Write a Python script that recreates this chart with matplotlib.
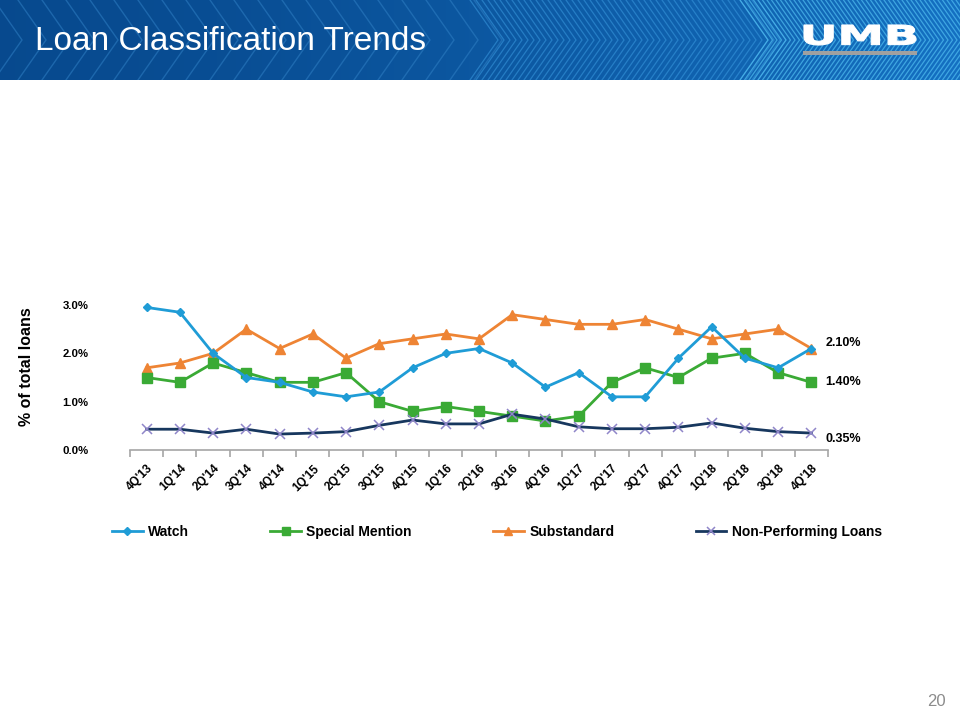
import numpy as np
import matplotlib
matplotlib.use("Agg")
import matplotlib.pyplot as plt
from matplotlib.textpath import TextPath
from matplotlib.font_manager import FontProperties
from matplotlib.patches import PathPatch, Rectangle
from matplotlib.transforms import Affine2D
from matplotlib.ticker import FixedLocator, FuncFormatter

plt.rcParams['font.family'] = ['Liberation Sans', 'DejaVu Sans']

quarters = ["4Q'13", "1Q'14", "2Q'14", "3Q'14", "4Q'14", "1Q'15", "2Q'15", "3Q'15",
            "4Q'15", "1Q'16", "2Q'16", "3Q'16", "4Q'16", "1Q'17", "2Q'17", "3Q'17",
            "4Q'17", "1Q'18", "2Q'18", "3Q'18", "4Q'18"]
watch = [2.95, 2.85, 2.0, 1.5, 1.4, 1.2, 1.1, 1.2, 1.7, 2.0, 2.1, 1.8, 1.3, 1.6,
         1.1, 1.1, 1.9, 2.55, 1.9, 1.7, 2.1]
special_mention = [1.5, 1.4, 1.8, 1.6, 1.4, 1.4, 1.6, 1.0, 0.8, 0.9, 0.8, 0.7, 0.6,
                   0.7, 1.4, 1.7, 1.5, 1.9, 2.0, 1.6, 1.4]
substandard = [1.7, 1.8, 2.0, 2.5, 2.1, 2.4, 1.9, 2.2, 2.3, 2.4, 2.3, 2.8, 2.7, 2.6,
               2.6, 2.7, 2.5, 2.3, 2.4, 2.5, 2.1]
npl = [0.43, 0.43, 0.35, 0.43, 0.33, 0.35, 0.38, 0.51, 0.62, 0.54, 0.54, 0.74, 0.64,
       0.48, 0.44, 0.44, 0.47, 0.56, 0.45, 0.38, 0.35]
yticks = [0.0, 1.0, 2.0, 3.0]
end_labels = ["2.10%", "1.40%", "0.35%"]

W, H = 960, 720
fig = plt.figure(figsize=(9.6, 7.2), dpi=100)
fig.patch.set_facecolor('white')

# ---------------- header band ----------------
hax = fig.add_axes([0, 1 - 80 / H, 1, 80 / H])
hax.set_xlim(0, W)
hax.set_ylim(80, 0)
hax.axis('off')
grad = np.linspace(0, 1, 256)
c0 = np.array([0.03, 0.29, 0.56])
c1 = np.array([0.08, 0.44, 0.76])
img = c0[None, :] + (c1 - c0)[None, :] * (grad ** 1.5)[:, None]
hax.imshow(img[None, :, :], extent=[0, W, 80, 0], aspect='auto', zorder=0)

def chevrons(xs, color, alpha, lw, d=28):
    for x0 in xs:
        hax.plot([x0, x0 + d, x0], [0, 40, 80], color=color, alpha=alpha, lw=lw,
                 solid_joinstyle='miter', zorder=1)

chevrons(np.arange(-30, 480, 24), '#2f7fc4', 0.55, 1.0)
chevrons(np.arange(470, 760, 6), '#3a9ae0', 0.55, 0.9)
chevrons(np.arange(740, 980, 4.5), '#55c4f5', 0.65, 0.9)

hax.text(35, 41, "Loan Classification Trends", color='white', fontsize=24,
         va='center', ha='left', zorder=5)

# UMB logo
fp = FontProperties(family='DejaVu Sans', weight='bold')
tp = TextPath((0, 0), "UMB", size=10, prop=fp)
bb = tp.get_extents()
sx = (916 - 804) / bb.width
sy = (45 - 25) / bb.height
tr = Affine2D().translate(-bb.x0, -bb.y0).scale(sx, -sy).translate(804, 45)
hax.add_patch(PathPatch(tr.transform_path(tp), facecolor='white', edgecolor='white',
                        lw=0.8, joinstyle='round', zorder=6))
hax.add_patch(Rectangle((803, 51), 114, 4, facecolor='#a0a0a0', edgecolor='none', zorder=6))

# ---------------- main chart ----------------
left, right = 130 / W, 828 / W
bottom, top = 1 - 450 / H, 1 - 305 / H
ax = fig.add_axes([left, bottom, right - left, top - bottom])
x = np.arange(len(quarters))

c_watch = '#1f9cd6'
c_sm = '#3aaa35'
c_sub = '#ee8434'
c_npl = '#17375e'

l1, = ax.plot(x, watch, color=c_watch, lw=2.0, marker='D', ms=4.5, mfc=c_watch,
              mec=c_watch, clip_on=False, zorder=4, label='Watch')
l2, = ax.plot(x, special_mention, color=c_sm, lw=2.0, marker='s', ms=6.5, mfc=c_sm,
              mec=c_sm, clip_on=False, zorder=3, label='Special Mention')
l3, = ax.plot(x, substandard, color=c_sub, lw=2.0, marker='^', ms=7, mfc=c_sub,
              mec=c_sub, clip_on=False, zorder=2, label='Substandard')
l4, = ax.plot(x, npl, color=c_npl, lw=2.0, marker='x', ms=7.5, mec='#8f86c9', mew=1.1,
              clip_on=False, zorder=5, label='Non-Performing Loans')

ax.set_xlim(-0.5, len(quarters) - 0.5)
ax.set_ylim(0, 3.0)
for s in ['top', 'right', 'left']:
    ax.spines[s].set_visible(False)
ax.spines['bottom'].set_color('#a6a6a6')
ax.spines['bottom'].set_linewidth(1.2)

ax.set_xticks(x)
ax.set_xticklabels(quarters, rotation=45, ha='right', rotation_mode='anchor',
                   fontsize=8.5, fontweight='bold', color='black')
ax.tick_params(axis='x', which='major', length=0, pad=9)
ax.xaxis.set_minor_locator(FixedLocator(np.arange(-0.5, len(quarters), 1.0)))
ax.tick_params(axis='x', which='minor', length=5, color='#a6a6a6', width=1.2)

ax.set_yticks(yticks)
ax.yaxis.set_major_formatter(FuncFormatter(lambda v, p: f"{v:.1f}%"))
ax.tick_params(axis='y', length=0, pad=30, labelsize=8.2)
for lab in ax.get_yticklabels():
    lab.set_fontweight('bold')

fig.text(27 / W, 1 - 367 / H, "% of total loans", rotation=90, fontsize=11.5,
         fontweight='bold', ha='center', va='center')

# end labels
last = len(quarters) - 1
for val, txt, dy in zip([substandard[-1], special_mention[-1], npl[-1]], end_labels,
                        [4, 0, -4]):
    ax.annotate(txt, (last, val), xytext=(10, dy), textcoords='offset points',
                ha='left', va='center', fontsize=9,
                family=['Liberation Sans Narrow', 'Liberation Sans'],
                fontweight='bold', annotation_clip=False)

leg = fig.legend(handles=[l1, l2, l3, l4], loc='center left',
                 bbox_to_anchor=(112 / W, 1 - 532 / H), ncol=4, frameon=False,
                 prop=FontProperties(family='Liberation Sans', weight='bold', size=10),
                 handlelength=2.2, handletextpad=0.4, columnspacing=5.85,
                 borderpad=0, borderaxespad=0, markerscale=0.8)

fig.text(946 / W, 1 - 702 / H, "20", fontsize=12, color='#8c8c8c', ha='right',
         va='center')

fig.savefig('out.png', dpi=100, facecolor='white')
